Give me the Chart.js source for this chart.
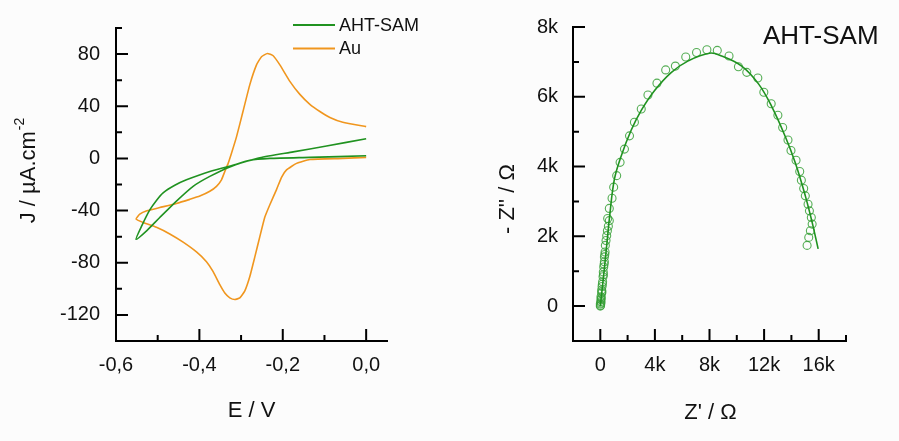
<!DOCTYPE html>
<html>
<head>
<meta charset="utf-8">
<script src="https://cdn.jsdelivr.net/npm/chart.js@4.4.1/dist/chart.umd.min.js"></script>
<style>
  html, body { margin: 0; background: #fcfcfc; }
  #wrap { position: relative; width: 899px; height: 441px; }
  #cv { position: absolute; left: 0; top: 0; }
  #eis { position: absolute; left: 450px; top: 0; }
</style>
</head>
<body>
<div id="wrap">
  <canvas id="cv" width="450" height="441"></canvas>
  <canvas id="eis" width="449" height="441"></canvas>
</div>
<script>
// cyclic voltammograms, E in V, J in uA/cm2 (scan starts at 0 V, goes negative, comes back)
const auE  = [0, -0.056, -0.135, -0.167, -0.191, -0.203, -0.215, -0.231, -0.243, -0.255, -0.267, -0.279, -0.291, -0.303, -0.315,
              -0.327, -0.339, -0.351, -0.367, -0.383, -0.407, -0.439, -0.471, -0.503, -0.535, -0.552,
              -0.543, -0.526, -0.495, -0.455, -0.423, -0.399, -0.375, -0.359, -0.347, -0.339, -0.331, -0.323, -0.311,
              -0.295, -0.279, -0.263, -0.251, -0.237, -0.223, -0.207, -0.183, -0.159, -0.135, -0.111, -0.087, -0.056, 0];
const auJ  = [0.8, 0, -0.8, -3.8, -8.8, -14.5, -23.9, -35.5, -45, -60, -75.5, -90.5, -101.5, -106.9, -108.2,
              -106.9, -103.2, -96.8, -86.8, -79.2, -71.7, -64.2, -57.9, -52.8, -49.1, -46.5,
              -42.8, -40.2, -37.7, -34.5, -31.4, -28.9, -25.2, -21.4, -16.4, -10, -3.8, 4, 16.5,
              36.5, 56.6, 71.7, 78, 80.5, 78.7, 71.7, 59.1, 49.1, 41.5, 36, 31.4, 27.7, 24.4];
const samE = [0, -0.135, -0.231, -0.279, -0.327, -0.375, -0.415, -0.455, -0.495, -0.526, -0.552,
              -0.538, -0.519, -0.503, -0.487, -0.459, -0.431, -0.375, -0.311, -0.255, -0.175, -0.095, 0];
const samJ = [2, 0.8, 0, -1.5, -6.5, -13.8, -21.4, -32.7, -45.3, -55.3, -62.1,
              -51.6, -39.5, -32.2, -26.4, -20.6, -16.4, -10, -4.5, 0.5, 5, 9.5, 15.1];

// impedance (Nyquist), ohm
const expZre = [0, 20, 0, 40, 50, 70, 50, 50, 100, 120, 100, 130, 150, 170, 200, 230, 220, 250, 280, 300, 300, 330, 350, 370, 420, 470, 520, 590, 660,
                540, 660, 860, 980, 1200, 1450, 1770, 2140, 2500, 3000, 3490, 4150, 4790, 5500, 6260, 7050, 7810, 8570, 9430, 10120,
                10730, 11540, 11980, 12520, 13010, 13360, 13750, 13970, 14340, 14610, 14730, 14900, 15020, 15220, 15320, 15460, 15520,
                15390, 15270, 15150];
const expZim = [0, 20, 60, 130, 90, 230, 180, 270, 370, 410, 460, 560, 630, 700, 840, 900, 980, 1120, 1200, 1270, 1410, 1480, 1550, 1740, 1880, 2020, 2160, 2290, 2450,
                2510, 2800, 3090, 3410, 3740, 4120, 4500, 4880, 5270, 5650, 6050, 6390, 6770, 6880, 7140, 7270, 7350, 7330, 7170, 6860,
                6700, 6540, 6130, 5800, 5470, 5120, 4760, 4460, 4180, 3860, 3610, 3370, 3160, 2920, 2730, 2540, 2350,
                2160, 1970, 1740];
const fitZre = [0, 300, 540, 660, 1030, 1520, 2260, 3000, 3980, 5210, 6440, 8000, 8890, 10360, 11590, 12570, 13550, 14290, 15020, 15520, 15960];
const fitZim = [0, 1080, 2020, 2490, 3630, 4290, 5040, 5610, 6180, 6700, 7030, 7250, 7170, 6880, 6370, 5710, 4860, 4100, 3160, 2400, 1640];

// axes
const cvTicksE = [-0.6, -0.4, -0.2, 0];
const cvMinorE = [-0.5, -0.3, -0.1];
const cvTicksJ = [-120, -80, -40, 0, 40, 80];
const cvMinorJ = [-100, -60, -20, 20, 60, 100];
const eisTicksX = [0, 4000, 8000, 12000, 16000];
const eisMinorX = [2000, 6000, 10000, 14000, 18000];
const eisTicksY = [0, 2000, 4000, 6000, 8000];
const eisMinorY = [1000, 3000, 5000, 7000];

const GREEN = '#209220';
const ORANGE = '#f0961e';
const FONT = "'Liberation Sans', Arial, sans-serif";

Chart.defaults.font.family = FONT;
Chart.defaults.color = '#111';
Chart.defaults.animation = false;

const pts = (xs, ys) => xs.map((x, i) => ({ x: x, y: ys[i] }));

// L-shaped frame with inward major/minor ticks, axis titles and free labels
const frame = {
  id: 'frame',
  afterDraw(chart, args, o) {
    const { ctx, chartArea: a, scales: { x, y } } = chart;
    ctx.save();
    ctx.strokeStyle = '#000';
    ctx.lineWidth = 2;
    ctx.lineCap = 'square';
    ctx.beginPath();
    ctx.moveTo(a.left, a.top);
    ctx.lineTo(a.left, a.bottom);
    ctx.lineTo(a.right, a.bottom);
    ctx.stroke();
    ctx.lineCap = 'butt';
    const tick = (vals, len) => {
      vals.forEach(v => {
        const px = x.getPixelForValue(v);
        ctx.moveTo(px, a.bottom); ctx.lineTo(px, a.bottom - len);
      });
    };
    const tickY = (vals, len) => {
      vals.forEach(v => {
        const py = y.getPixelForValue(v);
        ctx.moveTo(a.left, py); ctx.lineTo(a.left + len, py);
      });
    };
    ctx.beginPath();
    tick(o.xMajor, 12); tick(o.xMinor, 6);
    tickY(o.yMajor, 12); tickY(o.yMinor, 6);
    ctx.stroke();

    ctx.fillStyle = '#111';
    ctx.textAlign = 'center';
    ctx.textBaseline = 'middle';
    ctx.font = '22px ' + FONT;
    ctx.fillText(o.xTitle, (a.left + a.right) / 2 + o.xTitleDx, o.xTitleY);

    // rotated y title, optional superscript
    ctx.save();
    ctx.translate(o.yTitleX, o.yTitleY);
    ctx.rotate(-Math.PI / 2);
    ctx.font = '22px ' + FONT;
    const w1 = ctx.measureText(o.yTitle).width;
    ctx.font = '14px ' + FONT;
    const w2 = o.yTitleSup ? ctx.measureText(o.yTitleSup).width : 0;
    const start = -(w1 + w2) / 2;
    ctx.textAlign = 'left';
    ctx.font = '22px ' + FONT;
    ctx.fillText(o.yTitle, start, 0);
    if (o.yTitleSup) {
      ctx.font = '14px ' + FONT;
      ctx.fillText(o.yTitleSup, start + w1 + 1, -9);
    }
    ctx.restore();

    if (o.legend) {
      ctx.lineWidth = 2;
      ctx.textAlign = 'left';
      ctx.font = '18px ' + FONT;
      chart.data.datasets.forEach((ds, i) => {
        const ly = o.legend.y + i * o.legend.gap;
        ctx.strokeStyle = ds.borderColor;
        ctx.beginPath();
        ctx.moveTo(o.legend.x, ly);
        ctx.lineTo(o.legend.x + 42, ly);
        ctx.stroke();
        ctx.fillText(ds.label, o.legend.x + 46, ly + 1);
      });
    }
    if (o.tag) {
      ctx.textAlign = 'left';
      ctx.font = '26px ' + FONT;
      ctx.fillText(o.tag.text, o.tag.x, o.tag.y);
    }
    ctx.restore();
  }
};

const fixTicks = vals => scale => { scale.ticks = vals.map(v => ({ value: v })); };

new Chart(document.getElementById('cv'), {
  type: 'scatter',
  data: {
    datasets: [
      { label: 'AHT-SAM', data: pts(samE, samJ), showLine: true, borderColor: GREEN, borderWidth: 1.6,
        pointRadius: 0, tension: 0.2 },
      { label: 'Au', data: pts(auE, auJ), showLine: true, borderColor: ORANGE, borderWidth: 1.6,
        pointRadius: 0, tension: 0.15 }
    ]
  },
  options: {
    responsive: false,
    layout: { padding: { top: 22, right: 63, left: 0, bottom: 0 } },
    plugins: {
      legend: { display: false },
      tooltip: { enabled: false },
      frame: {
        xMajor: cvTicksE, xMinor: cvMinorE, yMajor: cvTicksJ, yMinor: cvMinorJ,
        xTitle: 'E / V', xTitleDx: 0, xTitleY: 411,
        yTitle: 'J / \u00b5A.cm', yTitleSup: '-2', yTitleX: 29, yTitleY: 171,
        legend: { x: 293, y: 25, gap: 23.5 }
      }
    },
    scales: {
      x: {
        type: 'linear', min: -0.6, max: 0.05,
        afterBuildTicks: fixTicks(cvTicksE),
        afterFit(s) { s.height = 100; },
        grid: { display: false, drawTicks: false },
        border: { display: false },
        ticks: { padding: 12, font: { size: 20 }, maxRotation: 0,
                 callback: v => v.toFixed(1).replace('.', ',') }
      },
      y: {
        min: -140, max: 100,
        afterBuildTicks: fixTicks(cvTicksJ),
        afterFit(s) { s.width = 116; },
        grid: { display: false, drawTicks: false },
        border: { display: false },
        ticks: { padding: 16, font: { size: 20 } }
      }
    }
  },
  plugins: [frame]
});

new Chart(document.getElementById('eis'), {
  type: 'scatter',
  data: {
    datasets: [
      { label: 'fit', data: pts(fitZre, fitZim), showLine: true, borderColor: GREEN, borderWidth: 1.6,
        pointRadius: 0, tension: 0.4 },
      { label: 'AHT-SAM', data: pts(expZre, expZim), showLine: false, pointRadius: 4,
        pointBorderWidth: 1.1, pointBorderColor: 'rgba(55,160,55,0.85)', pointBackgroundColor: 'rgba(0,0,0,0)' }
    ]
  },
  options: {
    responsive: false,
    layout: { padding: { top: 22, right: 53, left: 0, bottom: 0 } },
    plugins: {
      legend: { display: false },
      tooltip: { enabled: false },
      frame: {
        xMajor: eisTicksX, xMinor: eisMinorX, yMajor: eisTicksY, yMinor: eisMinorY,
        xTitle: "Z' / \u03a9", xTitleDx: 1, xTitleY: 413,
        yTitle: "- Z'' / \u03a9", yTitleX: 58, yTitleY: 199,
        tag: { text: 'AHT-SAM', x: 313, y: 37 }
      }
    },
    scales: {
      x: {
        type: 'linear', min: -2000, max: 18000,
        afterBuildTicks: fixTicks(eisTicksX),
        afterFit(s) { s.height = 100; },
        grid: { display: false, drawTicks: false },
        border: { display: false },
        ticks: { padding: 12, font: { size: 20 }, maxRotation: 0,
                 callback: v => v === 0 ? '0' : (v / 1000) + 'k' }
      },
      y: {
        min: -1000, max: 8000,
        afterBuildTicks: fixTicks(eisTicksY),
        afterFit(s) { s.width = 123; },
        grid: { display: false, drawTicks: false },
        border: { display: false },
        ticks: { padding: 15, font: { size: 20 },
                 callback: v => v === 0 ? '0' : (v / 1000) + 'k' }
      }
    }
  },
  plugins: [frame]
});
</script>
</body>
</html>
